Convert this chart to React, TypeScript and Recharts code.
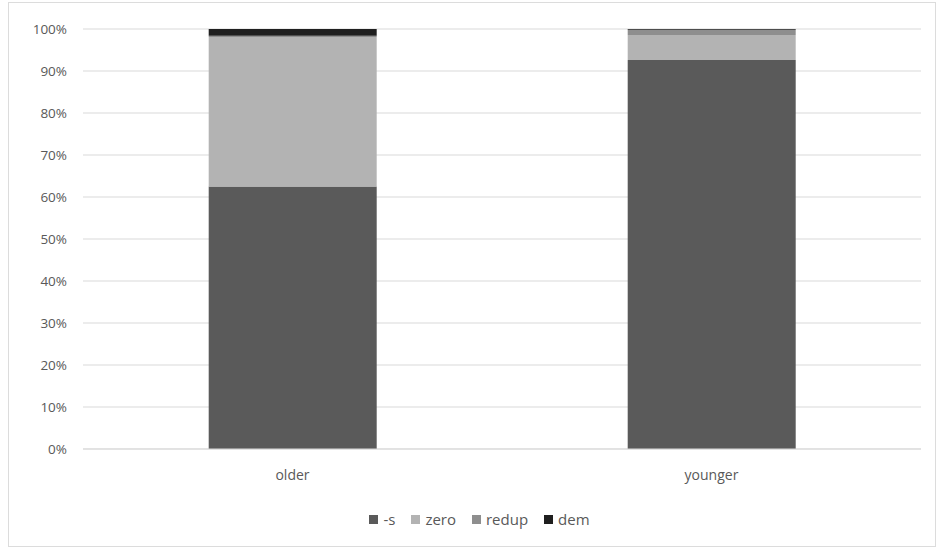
import { Bar, BarChart, CartesianGrid, Legend, XAxis, YAxis } from "recharts";

const groups = ["older", "younger"];
const sValues = [62.5, 92.6];
const zeroValues = [35.6, 6.0];
const redupValues = [0.3, 1.2];
const demValues = [1.6, 0.2];
const yTicks = [0, 10, 20, 30, 40, 50, 60, 70, 80, 90, 100];

const seriesList = [
  { key: "s", name: "-s", color: "#5a5a5a" },
  { key: "zero", name: "zero", color: "#b3b3b3" },
  { key: "redup", name: "redup", color: "#8e8e8e" },
  { key: "dem", name: "dem", color: "#1f1f1f" },
];

const data = groups.map((group, i) => ({
  group,
  s: sValues[i],
  zero: zeroValues[i],
  redup: redupValues[i],
  dem: demValues[i],
}));

const font = "'Open Sans', 'Noto Sans', sans-serif";

const LegendContent = () => (
  <div
    style={{
      height: 40,
      display: "flex",
      justifyContent: "center",
      alignItems: "center",
      gap: 16,
      paddingLeft: 38,
      fontFamily: font,
      fontSize: 15,
      color: "#595959",
    }}
  >
    {seriesList.map((s) => (
      <div key={s.key} style={{ display: "flex", alignItems: "center", gap: 5 }}>
        <span style={{ width: 9, height: 9, background: s.color, display: "inline-block" }} />
        <span>{s.name}</span>
      </div>
    ))}
  </div>
);

export default function App() {
  return (
    <div
      style={{
        position: "absolute",
        left: 0,
        top: 0,
        width: 939,
        height: 549,
        background: "#ffffff",
      }}
    >
      <div
        style={{
          position: "absolute",
          left: 8,
          top: 2,
          width: 928,
          height: 545,
          border: "1px solid #dcdcdc",
          boxSizing: "border-box",
        }}
      />
      <BarChart
        width={939}
        height={549}
        data={data}
        margin={{ top: 29, right: 18, left: 0, bottom: 10 }}
        barCategoryGap="30%"
      >
        <CartesianGrid vertical={false} stroke="#d9d9d9" />
        <XAxis
          dataKey="group"
          height={50}
          axisLine={{ stroke: "#d9d9d9" }}
          tickLine={false}
          tickSize={0}
          tickMargin={21}
          tick={{ fill: "#595959", fontSize: 14, fontFamily: font }}
        />
        <YAxis
          width={83}
          domain={[0, 100]}
          ticks={yTicks}
          interval={0}
          tickFormatter={(v) => `${v}%`}
          axisLine={false}
          tickLine={false}
          tickSize={0}
          tickMargin={16}
          tick={{ fill: "#595959", fontSize: 13.5, fontFamily: font }}
        />
        <Legend verticalAlign="bottom" content={<LegendContent />} />
        {seriesList.map((s) => (
          <Bar
            key={s.key}
            dataKey={s.key}
            name={s.name}
            stackId="a"
            fill={s.color}
            isAnimationActive={false}
          />
        ))}
      </BarChart>
    </div>
  );
}
